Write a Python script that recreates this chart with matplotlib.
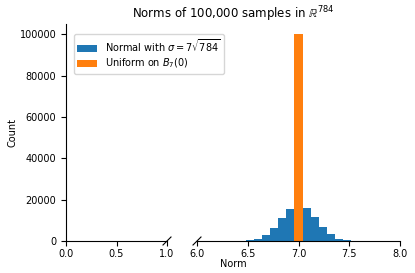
import matplotlib
matplotlib.use("Agg")
import matplotlib.pyplot as plt
import numpy as np

# Data
bin_centers = [6.44, 6.52, 6.60, 6.68, 6.76, 6.84, 6.92, 7.00, 7.08, 7.16, 7.24, 7.32, 7.40, 7.48, 7.56]
normal_counts = [40, 250, 800, 2750, 6400, 11300, 15300, 17500, 15800, 11700, 6900, 3200, 1100, 400, 60]
uniform_center = [7.00]
uniform_count = [100000]
bin_width = 0.08

left_ticks = [0.0, 0.5, 1.0]
right_ticks = [6.0, 6.5, 7.0, 7.5, 8.0]
y_ticks = [0, 20000, 40000, 60000, 80000, 100000]

plt.rcParams['font.size'] = 7
fig = plt.figure(figsize=(4.15, 2.73), dpi=100)

L, B, T = 66/415, 1-241/273, 1-24/273
H = T - B
w1 = (167-66)/415
w2 = (400-197)/415
ax1 = fig.add_axes([L, B, w1, H])
ax2 = fig.add_axes([197/415, B, w2, H])

blue = '#1f77b4'
orange = '#ff7f0e'

ax2.bar(bin_centers, normal_counts, width=bin_width, color=blue, label=r'Normal with $\sigma=7\sqrt{784}$')
ax2.bar(uniform_center, uniform_count, width=bin_width, color=orange, label=r'Uniform on $B_7(0)$')

ymax = 105000
for ax in (ax1, ax2):
    ax.set_ylim(0, ymax)
    ax.spines['top'].set_visible(False)
    ax.spines['right'].set_visible(False)
    ax.tick_params(axis='x', pad=2.5)

ax1.set_xlim(0, 1)
ax1.set_xticks(left_ticks)
ax1.set_yticks(y_ticks)
ax1.set_ylabel('Count', labelpad=1.5)

ax2.set_xlim(6, 8)
ax2.set_xticks(right_ticks)
ax2.spines['left'].set_visible(False)
ax2.tick_params(left=False, labelleft=False)

# break marks (about 4 px each way)
hpx = 241 - 24
kw = dict(color='k', clip_on=False, lw=0.8)
dx1, dx2, dy = 4/101, 4/203, 4/hpx
ax1.plot([1 - dx1, 1 + dx1], [-dy, dy], transform=ax1.transAxes, **kw)
ax2.plot([-dx2, dx2], [-dy, dy], transform=ax2.transAxes, **kw)

handles, labels = ax2.get_legend_handles_labels()
ax1.set_zorder(3)
leg = ax1.legend(handles, labels, loc='upper left', bbox_to_anchor=(0.03, (241-29)/hpx),
                 fontsize=7, labelspacing=0.3, borderpad=0.35, handlelength=2.0)

cx = (66 + 400) / 2 / 415
fig.text(cx, 1 - 14/273, r'Norms of 100,000 samples in $\mathbb{R}^{784}$', ha='center', va='center', fontsize=8.5)
fig.text(cx, 1 - 264/273, 'Norm', ha='center', va='center', fontsize=7)

fig.savefig('out.png', dpi=100)
